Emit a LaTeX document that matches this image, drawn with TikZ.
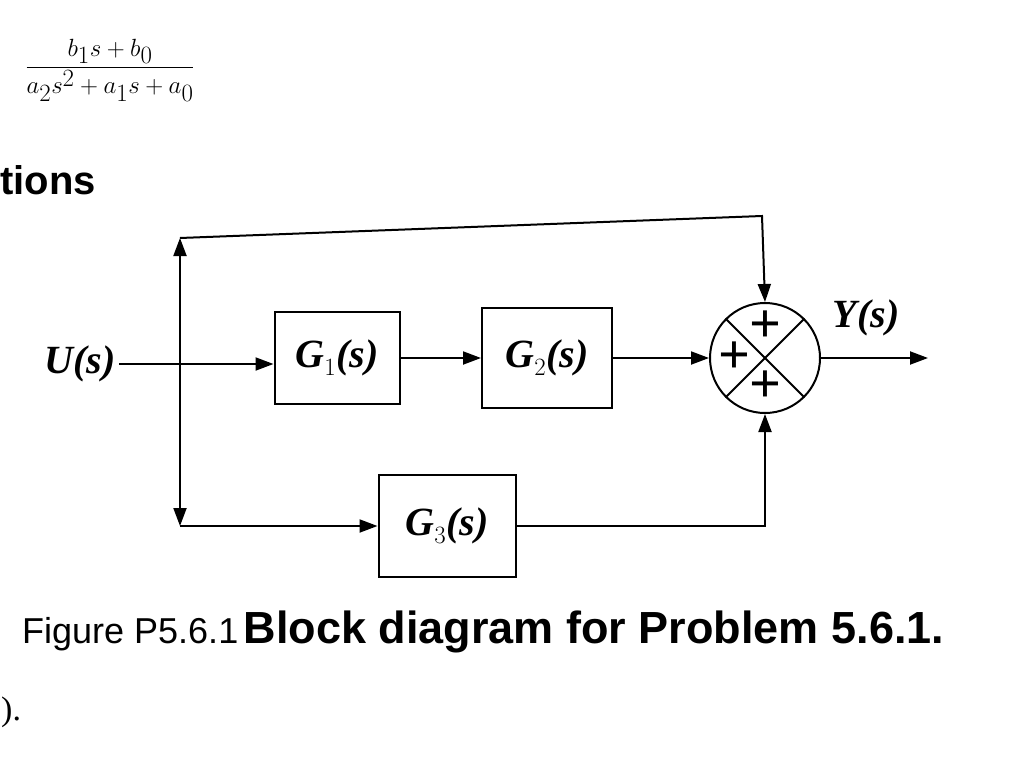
\documentclass[tikz,border=0pt]{standalone}
\usepackage{amsmath}
\usepackage{fontspec}
\setmainfont{Liberation Serif}
\newfontfamily\capfont{Liberation Sans}
\usetikzlibrary{arrows.meta}
\tikzset{
  blk/.style={draw,line width=2pt,minimum width=125pt,minimum height=92pt,font=\fontsize{40}{44}\selectfont\bfseries\itshape},
  sig/.style={line width=2pt,-{Triangle[length=18pt,width=13pt]}},
  wire/.style={line width=2pt},
  pls/.style={font=\fontsize{56}{56}\selectfont\bfseries,inner sep=0pt}
}
\begin{document}
\begin{tikzpicture}[x=1pt,y=-1pt]
\useasboundingbox[fill=white] (0,0) rectangle (1024,765);

% page text
\node (frac) at (110,70) {\fontsize{40}{44}\selectfont$\dfrac{b_1s+b_0}{a_2s^2+a_1s+a_0}$};
\node[anchor=west,font=\capfont\bfseries\fontsize{40}{44}\selectfont,inner sep=0pt] (sec) at (0,180) {tions};

% blocks
\node[blk] (g1) at (337,358) {G$_1$(s)};
\node[blk,minimum width=130pt,minimum height=100pt] (g2) at (547,358) {G$_2$(s)};
\node[blk,minimum width=137pt,minimum height=102pt] (g3) at (447,526) {G$_3$(s)};
\node[draw,circle,line width=2pt,minimum size=110pt] (sum) at (765,358) {};
\draw[wire] (sum.north west) -- (sum.south east);
\draw[wire] (sum.north east) -- (sum.south west);
\node[pls] at ([yshift=-29pt]sum.center) {+};
\node[pls] at ([xshift=-31pt]sum.center) {+};
\node[pls] at ([yshift=31pt]sum.center) {+};

% signals
\node[font=\fontsize{40}{44}\selectfont\bfseries\itshape] (u) at (80,364) {U(s)};
\coordinate (br) at (180,364);
\coordinate (top) at (180,238);
\coordinate (bot) at (180,526);
\coordinate (tr) at (762,216);
\coordinate (out) at (928,358);
\node[font=\fontsize{40}{44}\selectfont\bfseries\itshape] (y) at (866,318) {Y(s)};

\draw[sig] (u.east) -- (u.east -| g1.west);
\draw[sig] (br) -- (top);
\draw[sig] (br) -- (bot);
\draw[sig] (top) -- (tr) -- (sum.north);
\draw[sig] (bot) -- (g3.west);
\draw[sig] (g1.east) -- (g2.west);
\draw[sig] (g2.east) -- (sum.west);
\draw[sig] (g3.east) -| (sum.south);
\draw[sig] (sum.east) -- (out);

% caption
\node[anchor=west,font=\capfont,inner sep=0pt] (cap) at (22,632) {{\fontsize{36}{40}\selectfont Figure P5.6.1}\ \ {\fontsize{45}{50}\selectfont\bfseries Block diagram for Problem 5.6.1.}};
\node[anchor=west,font=\fontsize{34}{38}\selectfont,inner sep=1pt] (end) at (0,712) {).};
\end{tikzpicture}
\end{document}
